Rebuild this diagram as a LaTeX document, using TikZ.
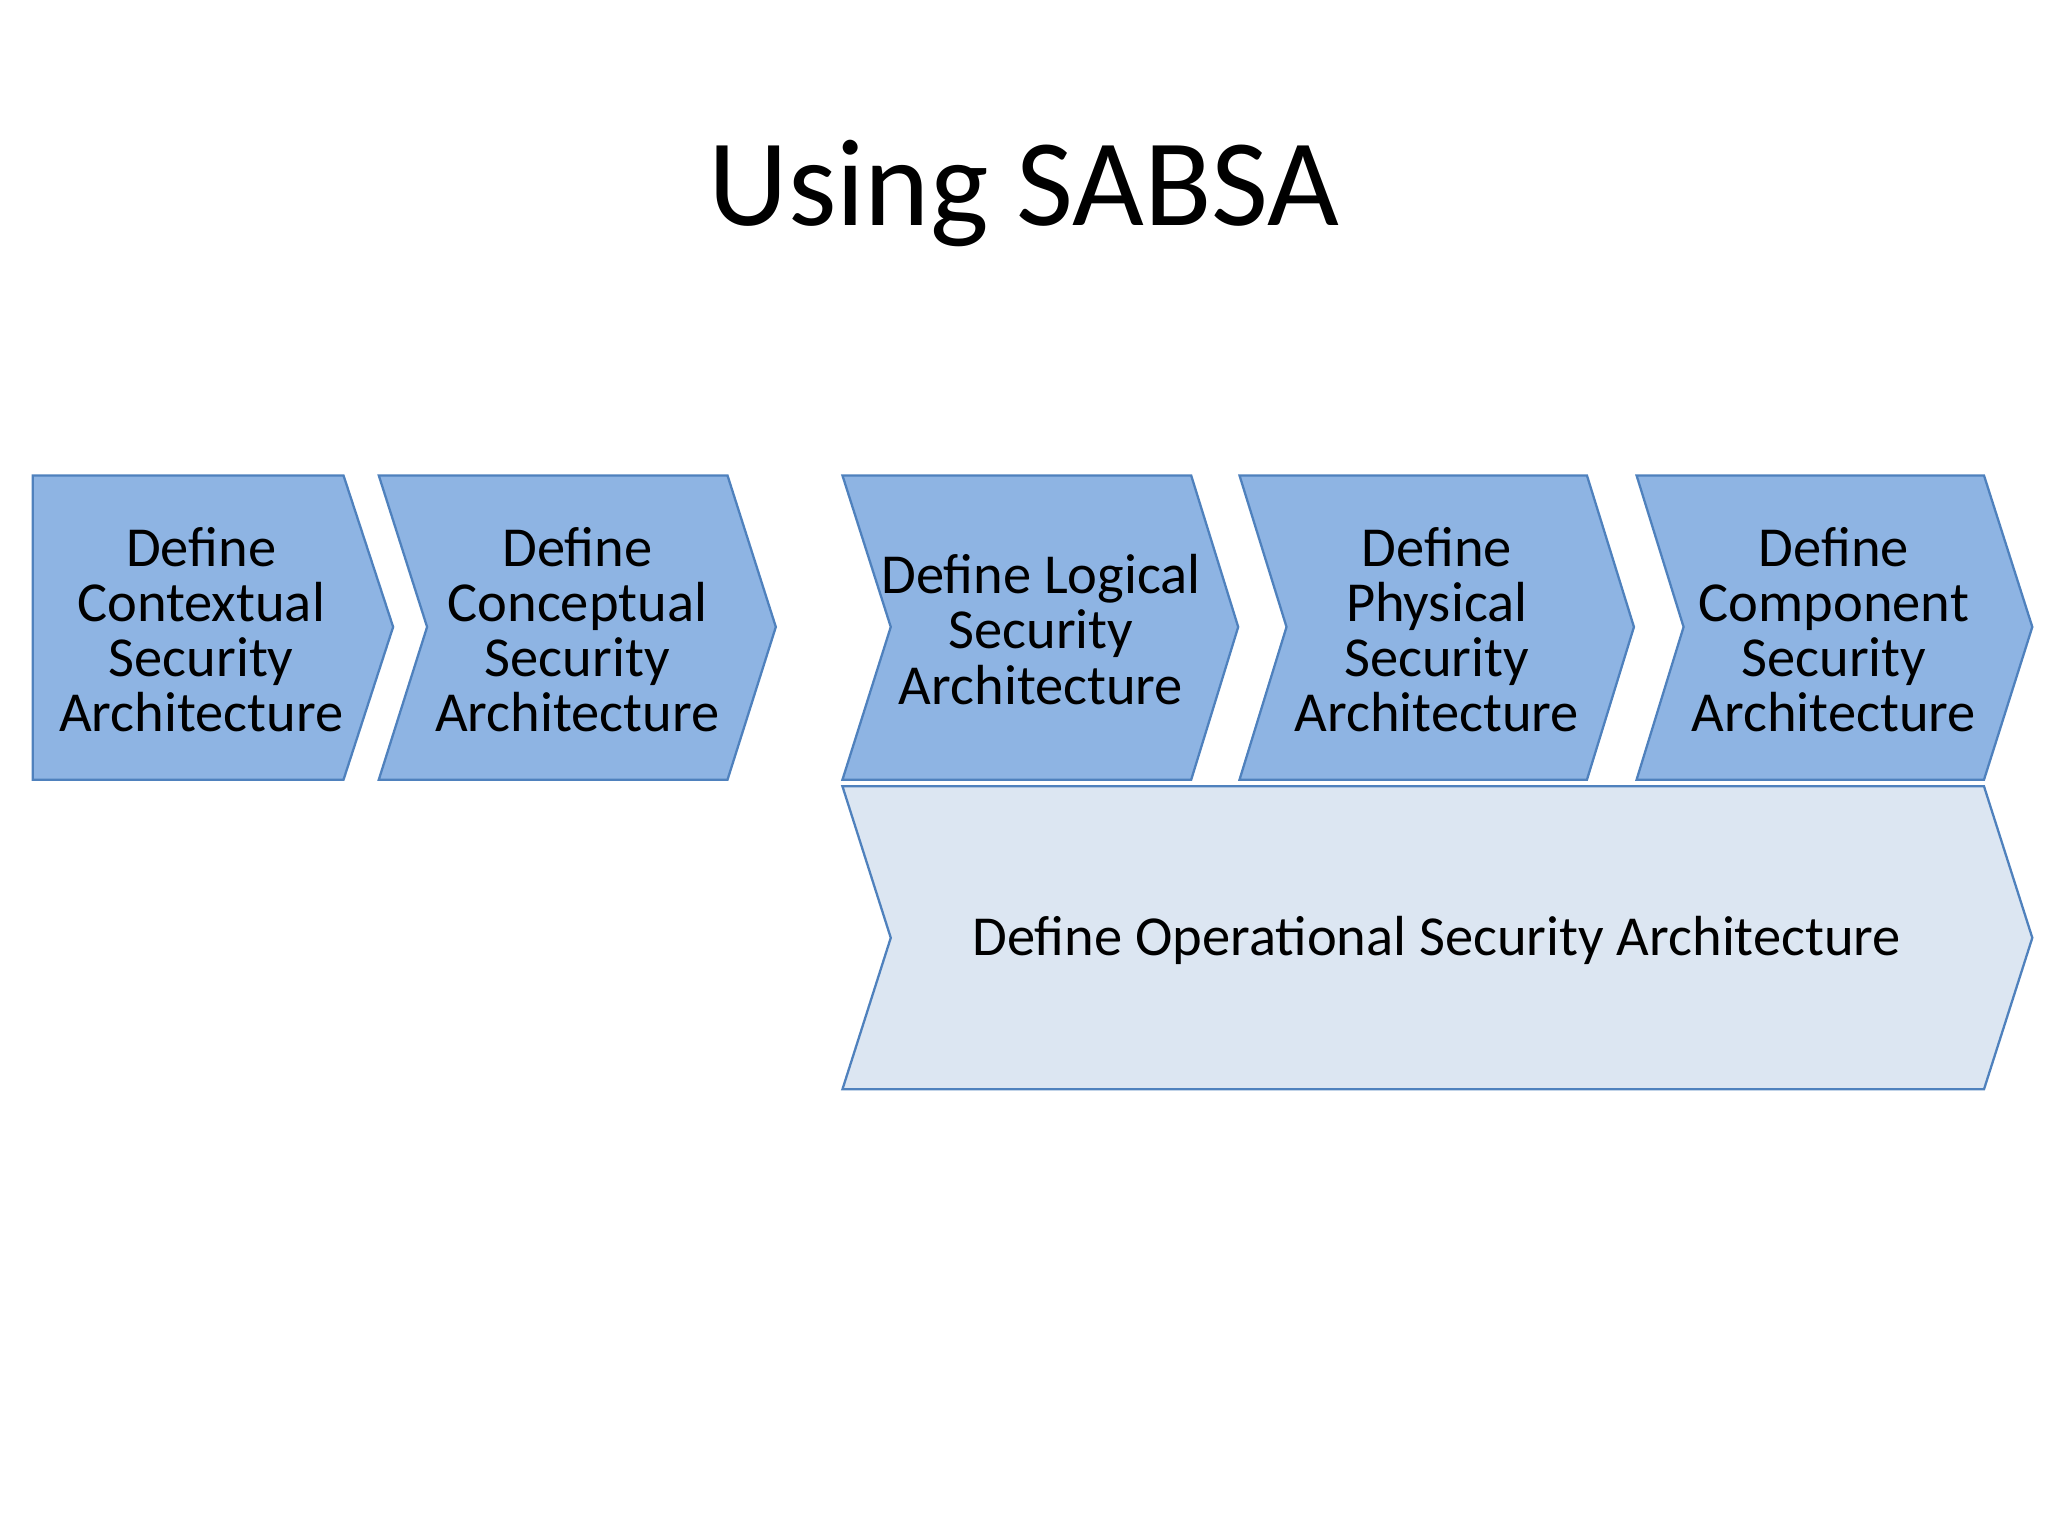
\documentclass[tikz,border=0pt]{standalone}
\usepackage{fontspec}
\setmainfont{Carlito}
\begin{document}
\begin{tikzpicture}[x=0.01cm,y=-0.01cm,
  chev/.style={draw=blue!35!black!60!cyan!70!white, draw={rgb,255:red,79;green,129;blue,189}, fill={rgb,255:red,142;green,180;blue,227}, line width=0.5pt},
  op/.style={draw={rgb,255:red,79;green,129;blue,189}, fill={rgb,255:red,220;green,230;blue,242}, line width=0.5pt},
  lbl/.style={align=center, font=\fontsize{12.3}{12}\selectfont, text=black}]
\useasboundingbox (0,0) rectangle (1568,1176);
\node (title) at (784,148) {\fontsize{27}{30}\selectfont Using SABSA};
\draw[chev] (25,364) -- (263,364) -- (301,480) -- (263,597) -- (25,597) -- cycle;
\draw[chev] (290,364) -- (557,364) -- (594,480) -- (557,597) -- (290,597) -- (327,480) -- cycle;
\draw[chev] (645,364) -- (912,364) -- (948,480) -- (912,597) -- (645,597) -- (682,480) -- cycle;
\draw[chev] (949,364) -- (1215,364) -- (1251,480) -- (1215,597) -- (949,597) -- (985,480) -- cycle;
\draw[chev] (1253,364) -- (1519,364) -- (1556,480) -- (1519,597) -- (1253,597) -- (1289,480) -- cycle;
\draw[op] (645,602) -- (1519,602) -- (1556,718) -- (1519,834) -- (645,834) -- (682,718) -- cycle;
\node[lbl] (a) at (154,482) {Define\\Contextual\\Security\\Architecture};
\node[lbl] (b) at (442,482) {Define\\Conceptual\\Security\\Architecture};
\node[lbl] (c) at (797,482) {Define Logical\\Security\\Architecture};
\node[lbl] (d) at (1100,482) {Define\\Physical\\Security\\Architecture};
\node[lbl] (e) at (1404,482) {Define\\Component\\Security\\Architecture};
\node[lbl] (f) at (1100,720) {Define Operational Security Architecture};
\end{tikzpicture}
\end{document}
